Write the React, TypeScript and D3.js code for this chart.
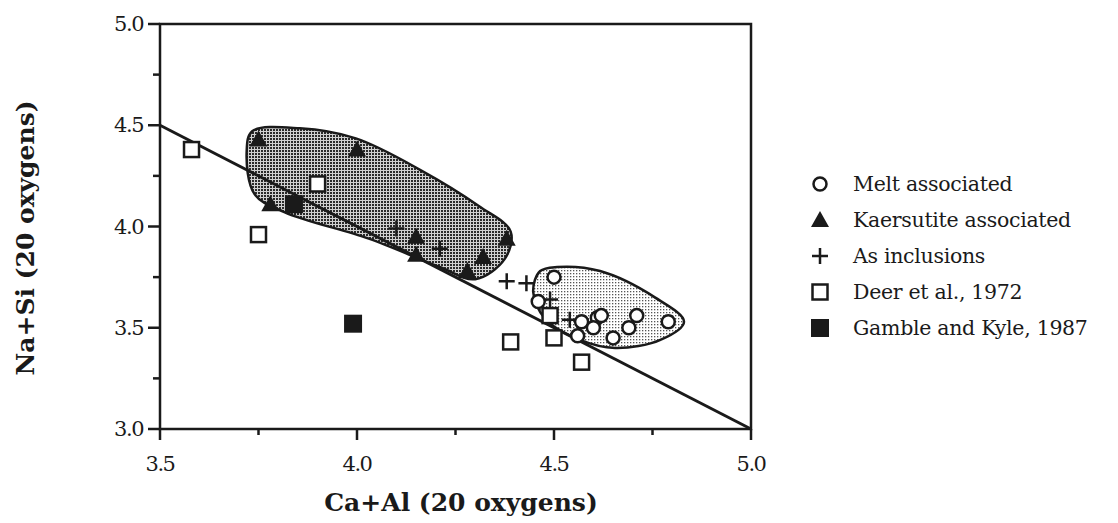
import React, { useEffect, useRef } from 'react';
import * as d3 from 'd3';

// values: [Ca+Al, Na+Si]
const melt: [number, number][] = [
  [4.50, 3.75], [4.46, 3.63], [4.57, 3.53], [4.61, 3.55], [4.62, 3.56], [4.60, 3.50],
  [4.56, 3.46], [4.65, 3.45], [4.69, 3.50], [4.71, 3.56], [4.79, 3.53],
];
const kaersutite: [number, number][] = [
  [3.75, 4.43], [4.00, 4.38], [3.78, 4.11], [4.15, 3.95], [4.15, 3.86],
  [4.38, 3.94], [4.32, 3.85], [4.28, 3.78],
];
const inclusions: [number, number][] = [
  [4.10, 3.99], [4.21, 3.89], [4.38, 3.73], [4.43, 3.72], [4.49, 3.64], [4.54, 3.54],
];
const deer: [number, number][] = [
  [3.58, 4.38], [3.75, 3.96], [3.90, 4.21], [4.39, 3.43], [4.49, 3.56], [4.50, 3.45], [4.57, 3.33],
];
const gamble: [number, number][] = [[3.84, 4.11], [3.99, 3.52]];

// outlines of the shaded fields
const kaersField: [number, number][] = [
  [3.734, 4.47], [3.855, 4.485], [3.997, 4.435], [4.16, 4.28], [4.31, 4.10], [4.39, 3.975],
  [4.375, 3.84], [4.30, 3.74], [4.21, 3.80], [4.03, 3.94], [3.817, 4.07], [3.74, 4.16], [3.72, 4.37],
];
const meltField: [number, number][] = [
  [4.508, 3.80], [4.617, 3.78], [4.756, 3.65], [4.83, 3.53], [4.77, 3.44], [4.655, 3.40],
  [4.566, 3.44], [4.477, 3.545], [4.447, 3.68], [4.465, 3.78],
];

const trendLine: [number, number][] = [[3.5, 4.5], [5.0, 3.0]];

const xTicks = [3.5, 4.0, 4.5, 5.0];
const xMinor = [3.75, 4.25, 4.75];
const yTicks = [3.0, 3.5, 4.0, 4.5, 5.0];
const yMinor = [3.25, 3.75, 4.25, 4.75];

const legendItems = [
  { key: 'circle', label: 'Melt associated' },
  { key: 'triangle', label: 'Kaersutite associated' },
  { key: 'plus', label: 'As inclusions' },
  { key: 'square', label: 'Deer et al., 1972' },
  { key: 'filled', label: 'Gamble and Kyle, 1987' },
];

const FONT = '"DejaVu Serif", serif';

export default function App() {
  const svgRef = useRef<SVGSVGElement | null>(null);

  useEffect(() => {
    const svg = d3.select(svgRef.current);
    svg.selectAll('*').remove();

    const width = 1118;
    const height = 523;
    const margin = { top: 24, right: 367, bottom: 94, left: 160 };

    const x = d3.scaleLinear().domain([3.5, 5.0]).range([margin.left, width - margin.right]);
    const y = d3.scaleLinear().domain([3.0, 5.0]).range([height - margin.bottom, margin.top]);

    // stipple patterns
    const defs = svg.append('defs');
    const dark = defs.append('pattern').attr('id', 'dark').attr('width', 3).attr('height', 3)
      .attr('patternUnits', 'userSpaceOnUse');
    dark.append('rect').attr('width', 3).attr('height', 3).attr('fill', '#d0d0d0');
    dark.append('rect').attr('width', 2).attr('height', 2).attr('fill', '#2a2a2a');
    const light = defs.append('pattern').attr('id', 'light').attr('width', 3).attr('height', 3)
      .attr('patternUnits', 'userSpaceOnUse');
    light.append('rect').attr('width', 3).attr('height', 3).attr('fill', '#fff');
    light.append('rect').attr('width', 1.3).attr('height', 1.3).attr('fill', '#555');

    const area = d3.line<[number, number]>()
      .x((d) => x(d[0]))
      .y((d) => y(d[1]))
      .curve(d3.curveCatmullRomClosed.alpha(0.5));

    svg.append('path').datum(kaersField).attr('d', area)
      .attr('fill', 'url(#dark)').attr('stroke', '#1a1a1a').attr('stroke-width', 2.5);
    svg.append('path').datum(meltField).attr('d', area)
      .attr('fill', 'url(#light)').attr('stroke', '#1a1a1a').attr('stroke-width', 2.5);

    // frame
    const ink = '#1a1a1a';
    svg.append('rect')
      .attr('x', x(3.5)).attr('y', y(5.0))
      .attr('width', x(5.0) - x(3.5)).attr('height', y(3.0) - y(5.0))
      .attr('fill', 'none').attr('stroke', ink).attr('stroke-width', 2.5);

    // trend line Na+Si = 8 - (Ca+Al)
    svg.append('path').datum(trendLine)
      .attr('d', d3.line<[number, number]>().x((d) => x(d[0])).y((d) => y(d[1])))
      .attr('stroke', ink).attr('stroke-width', 3).attr('fill', 'none');

    // ticks
    const tickG = svg.append('g').attr('stroke', ink).attr('stroke-width', 2.5);
    xTicks.forEach((t) => tickG.append('line').attr('x1', x(t)).attr('x2', x(t))
      .attr('y1', y(3.0)).attr('y2', y(3.0) + 11));
    xMinor.forEach((t) => tickG.append('line').attr('x1', x(t)).attr('x2', x(t))
      .attr('y1', y(3.0)).attr('y2', y(3.0) + 6));
    yTicks.forEach((t) => tickG.append('line').attr('x1', x(3.5) - 12).attr('x2', x(3.5))
      .attr('y1', y(t)).attr('y2', y(t)));
    yMinor.forEach((t) => tickG.append('line').attr('x1', x(3.5) - 7).attr('x2', x(3.5))
      .attr('y1', y(t)).attr('y2', y(t)));

    svg.append('g').selectAll('text').data(xTicks).join('text')
      .attr('x', (d) => x(d)).attr('y', y(3.0) + 42)
      .attr('text-anchor', 'middle').attr('font-family', FONT).attr('font-size', 21)
      .attr('letter-spacing', -1.5).attr('fill', ink)
      .text((d) => d.toFixed(1));
    svg.append('g').selectAll('text').data(yTicks).join('text')
      .attr('x', x(3.5) - 17).attr('y', (d) => y(d) + 7)
      .attr('text-anchor', 'end').attr('font-family', FONT).attr('font-size', 21)
      .attr('letter-spacing', -1.5).attr('fill', ink)
      .text((d) => d.toFixed(1));

    svg.append('text').attr('x', 461).attr('y', 511).attr('text-anchor', 'middle')
      .attr('font-family', FONT).attr('font-weight', 'bold').attr('font-size', 25).attr('fill', ink)
      .text('Ca+Al (20 oxygens)');
    svg.append('text').attr('transform', 'translate(34,238) rotate(-90)').attr('text-anchor', 'middle')
      .attr('font-family', FONT).attr('font-weight', 'bold').attr('font-size', 25).attr('fill', ink)
      .text('Na+Si (20 oxygens)');

    // symbol drawers
    const drawSymbol = (g: d3.Selection<SVGGElement, unknown, null, undefined>, kind: string, cx: number, cy: number) => {
      if (kind === 'circle') {
        g.append('circle').attr('cx', cx).attr('cy', cy).attr('r', 6.5)
          .attr('fill', '#fff').attr('stroke', ink).attr('stroke-width', 2.5);
      } else if (kind === 'triangle') {
        g.append('path').attr('d', `M${cx},${cy - 9}L${cx + 9},${cy + 7}L${cx - 9},${cy + 7}Z`)
          .attr('fill', ink);
      } else if (kind === 'plus') {
        g.append('path').attr('d', `M${cx - 8},${cy}H${cx + 8}M${cx},${cy - 8}V${cy + 8}`)
          .attr('stroke', ink).attr('stroke-width', 2.5).attr('fill', 'none');
      } else if (kind === 'square') {
        g.append('rect').attr('x', cx - 7.5).attr('y', cy - 7.5).attr('width', 15).attr('height', 15)
          .attr('fill', '#fff').attr('stroke', ink).attr('stroke-width', 2.5);
      } else {
        g.append('rect').attr('x', cx - 9).attr('y', cy - 9).attr('width', 18).attr('height', 18)
          .attr('fill', ink);
      }
    };

    const pts = svg.append('g') as d3.Selection<SVGGElement, unknown, null, undefined>;
    deer.forEach((d) => drawSymbol(pts, 'square', x(d[0]), y(d[1])));
    gamble.forEach((d) => drawSymbol(pts, 'filled', x(d[0]), y(d[1])));
    kaersutite.forEach((d) => drawSymbol(pts, 'triangle', x(d[0]), y(d[1])));
    inclusions.forEach((d) => drawSymbol(pts, 'plus', x(d[0]), y(d[1])));
    melt.forEach((d) => drawSymbol(pts, 'circle', x(d[0]), y(d[1])));

    // legend
    const leg = svg.append('g') as d3.Selection<SVGGElement, unknown, null, undefined>;
    legendItems.forEach((item, i) => {
      const cy = 184 + i * 36;
      drawSymbol(leg, item.key, 820, cy);
      leg.append('text').attr('x', 853).attr('y', cy + 7)
        .attr('font-family', FONT).attr('font-size', 20.5).attr('fill', ink)
        .attr('letter-spacing', -0.3)
        .text(item.label);
    });
  }, []);

  return (
    <svg ref={svgRef} width={1118} height={523}
      style={{ position: 'absolute', left: 0, top: 0, background: '#fff' }} />
  );
}
